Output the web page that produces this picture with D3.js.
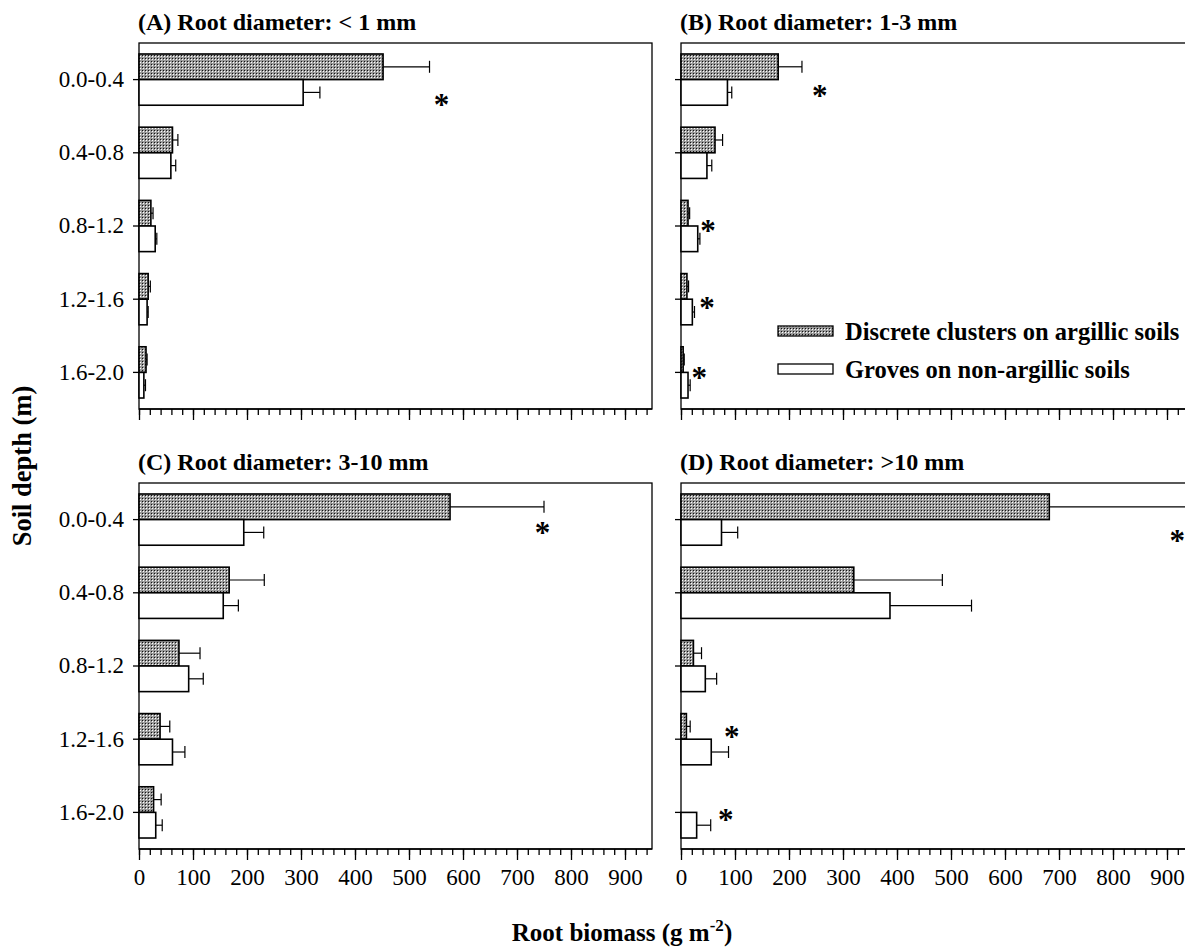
<!DOCTYPE html>
<html>
<head>
<meta charset="utf-8">
<script src="https://cdn.jsdelivr.net/npm/d3@7.9.0/dist/d3.min.js"></script>
<style>
  body { margin: 0; background: #fff; }
  svg { font-family: "Liberation Serif", "Times New Roman", serif; }
</style>
</head>
<body>
<svg id="chart" width="1185" height="951"></svg>
<script>
// depth classes (m)
const depths = ['0.0-0.4', '0.4-0.8', '0.8-1.2', '1.2-1.6', '1.6-2.0'];

// root biomass (g m-2), mean and standard error per depth
const aDiscrete = [452, 62, 22, 17, 13];
const aDiscreteSE = [86, 10, 4, 4, 2];
const aGroves = [304, 59, 30, 15, 9];
const aGrovesSE = [31, 9, 3, 2, 3];

const bDiscrete = [180, 63, 13, 11, 4];
const bDiscreteSE = [44, 14, 3, 3, 2];
const bGroves = [86, 48, 31, 21, 13];
const bGrovesSE = [8, 9, 4, 4, 4];

const cDiscrete = [576, 167, 74, 39, 27];
const cDiscreteSE = [174, 65, 39, 18, 14];
const cGroves = [194, 156, 92, 62, 31];
const cGrovesSE = [37, 28, 27, 23, 12];

const dDiscrete = [682, 320, 23, 10, 0];
const dDiscreteSE = [290, 164, 15, 7, 0];
const dGroves = [75, 387, 45, 56, 29];
const dGrovesSE = [30, 151, 21, 32, 26];

const titles = ['(A) Root diameter: < 1 mm', '(B) Root diameter: 1-3 mm',
                '(C) Root diameter: 3-10 mm', '(D) Root diameter: >10 mm'];
const seriesNames = ['Discrete clusters on argillic soils', 'Groves on non-argillic soils'];

// significance marks: panel index, depth, x position (g m-2), vertical nudge (px)
const starPanel = [0, 1, 1, 1, 1, 2, 3, 3, 3];
const starDepth = ['0.0-0.4', '0.0-0.4', '0.8-1.2', '1.2-1.6', '1.6-2.0', '0.0-0.4', '0.0-0.4', '1.2-1.6', '1.6-2.0'];
const starX = [560, 257, 50, 48, 34, 747, 919, 94, 83];
const starNudge = [20, 11, 0, 4, 1, 8, 16, -7, 3];

const panels = [
  { disc: aDiscrete, discSE: aDiscreteSE, grov: aGroves, grovSE: aGrovesSE },
  { disc: bDiscrete, discSE: bDiscreteSE, grov: bGroves, grovSE: bGrovesSE },
  { disc: cDiscrete, discSE: cDiscreteSE, grov: cGroves, grovSE: cGrovesSE },
  { disc: dDiscrete, discSE: dDiscreteSE, grov: dGroves, grovSE: dGrovesSE }
];

const svg = d3.select('#chart');
const pw = 513, ph = 366;
const lefts = [139, 681];
const tops = [43, 483];

// dotted fill
const defs = svg.append('defs');
const pat = defs.append('pattern')
  .attr('id', 'dots').attr('patternUnits', 'userSpaceOnUse')
  .attr('width', 3).attr('height', 3);
pat.append('rect').attr('width', 3).attr('height', 3).attr('fill', '#9a9a9a');
pat.append('rect').attr('x', 1).attr('y', 1).attr('width', 1).attr('height', 1).attr('fill', '#fff');
pat.append('rect').attr('x', 0).attr('y', 0).attr('width', 1).attr('height', 1).attr('fill', '#111');

const x = d3.scaleLinear().domain([0, 950]).range([0, pw]);
const y = d3.scaleBand().domain(depths).range([0, ph]).paddingInner(0.3).paddingOuter(0.15);
const bh = y.bandwidth() / 2;

panels.forEach((p, i) => {
  const col = i % 2, row = Math.floor(i / 2);
  const g = svg.append('g').attr('transform', `translate(${lefts[col]},${tops[row]})`);

  g.append('text')
    .attr('x', -1).attr('y', -13)
    .attr('font-size', 24).attr('font-weight', 'bold')
    .text(titles[i]);

  // frame
  g.append('rect').attr('width', pw).attr('height', ph)
    .attr('fill', 'none').attr('stroke', '#000').attr('stroke-width', 1.3);

  const series = [
    { vals: p.disc, se: p.discSE, off: 0, fill: 'url(#dots)' },
    { vals: p.grov, se: p.grovSE, off: bh, fill: '#fff' }
  ];

  series.forEach(s => {
    const rows = depths.map((d, k) => ({ d, v: s.vals[k], e: s.se[k] }));
    // error bars (upper side only)
    rows.forEach(r => {
      if (r.e <= 0) return;
      const cy = y(r.d) + s.off + bh / 2;
      g.append('line')
        .attr('x1', x(r.v)).attr('x2', x(r.v + r.e))
        .attr('y1', cy).attr('y2', cy)
        .attr('stroke', '#000').attr('stroke-width', 1.2);
      g.append('line')
        .attr('x1', x(r.v + r.e)).attr('x2', x(r.v + r.e))
        .attr('y1', cy - 6).attr('y2', cy + 6)
        .attr('stroke', '#000').attr('stroke-width', 1.2);
    });
    g.selectAll(null).data(rows.filter(r => r.v > 0)).join('rect')
      .attr('x', 0)
      .attr('y', r => y(r.d) + s.off)
      .attr('width', r => x(r.v))
      .attr('height', bh)
      .attr('fill', s.fill)
      .attr('stroke', '#000').attr('stroke-width', 1.6);
  });

  // x axis: minor + major ticks
  const minor = d3.axisBottom(x).tickValues(d3.range(0, 951, 20)).tickSize(6).tickFormat('');
  const major = d3.axisBottom(x).tickValues(d3.range(0, 901, 100)).tickSize(11)
    .tickPadding(9).tickFormat(row === 1 ? d3.format('d') : '');
  const gm = g.append('g').attr('transform', `translate(0,${ph})`).call(minor);
  gm.select('.domain').remove();
  const gM = g.append('g').attr('transform', `translate(0,${ph})`).call(major);
  gM.select('.domain').attr('d', `M0,0H${pw}`).attr('stroke-width', 1.3);
  g.selectAll('.tick line').attr('stroke-width', 1.3);
  gM.selectAll('.tick text').attr('font-size', 23).attr('font-family', 'Liberation Serif')
    .attr('fill', '#000');

  // y axis
  const yAxis = d3.axisLeft(y).tickSize(6).tickPadding(9).tickFormat(col === 0 ? d => d : '');
  const gy = g.append('g').call(yAxis);
  gy.select('.domain').remove();
  gy.selectAll('.tick line').attr('stroke-width', 1.3);
  gy.selectAll('.tick').attr('transform', d => `translate(0,${y(d) + bh})`);
  gy.selectAll('.tick text').attr('font-size', 23).attr('font-family', 'Liberation Serif')
    .attr('fill', '#000');

  // significance asterisks
  starPanel.forEach((sp, k) => {
    if (sp !== i) return;
    g.append('text')
      .attr('x', x(starX[k]))
      .attr('y', y(starDepth[k]) + bh + starNudge[k] + 15)
      .attr('text-anchor', 'middle')
      .attr('font-size', 31).attr('font-weight', 'bold')
      .text('*');
  });
});

// legend
const lg = svg.append('g').attr('transform', 'translate(778,331)');
seriesNames.forEach((name, k) => {
  const row = lg.append('g').attr('transform', `translate(0,${k * 38})`);
  row.append('rect').attr('x', 0).attr('y', -5).attr('width', 55).attr('height', 10)
    .attr('fill', k === 0 ? 'url(#dots)' : '#fff')
    .attr('stroke', '#000').attr('stroke-width', 1.3);
  row.append('text').attr('x', 67).attr('y', 0).attr('dy', '0.35em')
    .attr('font-size', 24.5).attr('font-weight', 'bold').text(name);
});

// axis titles
svg.append('text')
  .attr('transform', 'translate(31,466) rotate(-90)')
  .attr('text-anchor', 'middle')
  .attr('font-size', 26.5).attr('font-weight', 'bold')
  .text('Soil depth (m)');

const xt = svg.append('text')
  .attr('x', 622).attr('y', 941)
  .attr('text-anchor', 'middle')
  .attr('font-size', 25).attr('font-weight', 'bold');
xt.append('tspan').text('Root biomass (g m');
xt.append('tspan').attr('font-size', 17).attr('dy', -10).text('-2');
xt.append('tspan').attr('dy', 10).text(')');
</script>
</body>
</html>
